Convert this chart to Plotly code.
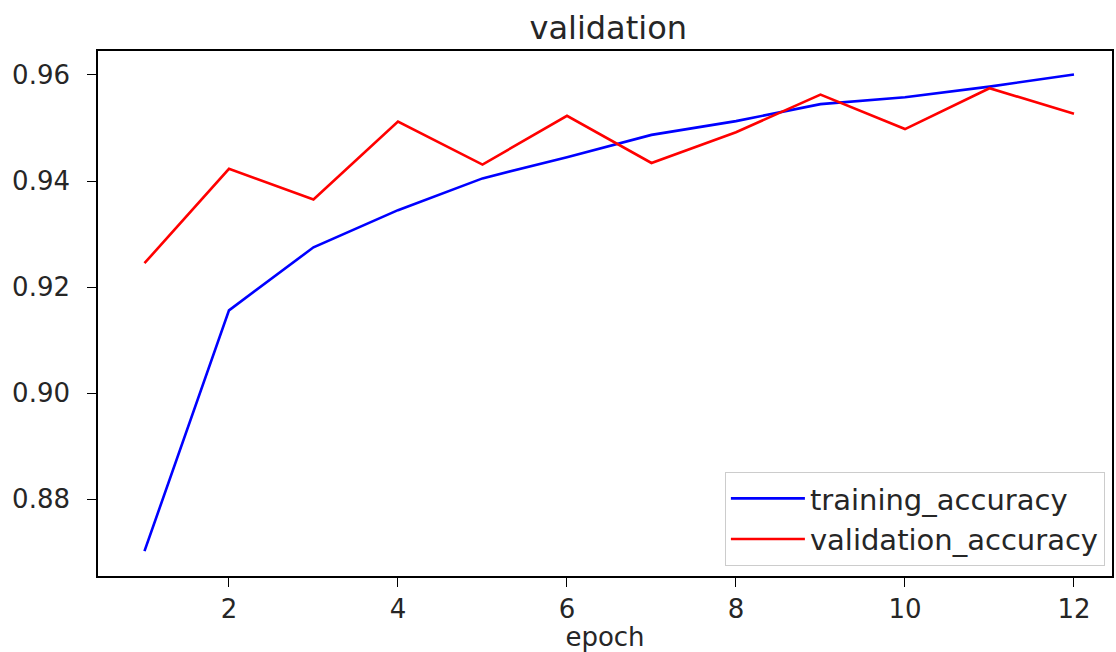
import plotly.graph_objects as go

epochs = [1, 2, 3, 4, 5, 6, 7, 8, 9, 10, 11, 12]
training_accuracy = [0.8702, 0.9156, 0.9275, 0.9345, 0.9405, 0.9445, 0.9487, 0.9513, 0.9545, 0.9558, 0.9578, 0.9601]
validation_accuracy = [0.9245, 0.9423, 0.9365, 0.9512, 0.9431, 0.9523, 0.9434, 0.9492, 0.9563, 0.9498, 0.9575, 0.9527]
x_ticks = [2, 4, 6, 8, 10, 12]
y_ticks = [0.88, 0.90, 0.92, 0.94, 0.96]

FONT = "DejaVu Sans"
TXT = "#262626"

fig = go.Figure()
fig.add_trace(go.Scatter(x=epochs, y=training_accuracy, mode="lines", name="training_accuracy",
                         line=dict(color="#0000ff", width=2.6)))
fig.add_trace(go.Scatter(x=epochs, y=validation_accuracy, mode="lines", name="validation_accuracy",
                         line=dict(color="#ff0000", width=2.6)))

axis_common = dict(showline=True, linecolor="black", linewidth=1.6, mirror=True,
                   showgrid=False, zeroline=False, ticks="outside", ticklen=9,
                   tickwidth=1.4, tickcolor="black",
                   tickfont=dict(family=FONT, size=26, color=TXT))

fig.update_layout(
    width=1116, height=652,
    margin=dict(l=98, r=2, t=51, b=75),
    paper_bgcolor="white", plot_bgcolor="white",
    title=dict(text="validation", x=0.545, xanchor="center", y=0.958, yanchor="middle",
               font=dict(family=FONT, size=32, color=TXT)),
    xaxis=dict(range=[0.45, 12.45], tickvals=x_ticks, ticktext=[str(v) for v in x_ticks],
               title=dict(text="epoch", standoff=8, font=dict(family=FONT, size=26, color=TXT)),
               **axis_common),
    yaxis=dict(range=[0.86551, 0.96452], tickvals=y_ticks, ticktext=[f"{v:.2f}" for v in y_ticks],
               ticklabelstandoff=12, **axis_common),
    legend=dict(x=0.993, y=0.019, xanchor="right", yanchor="bottom",
                bgcolor="rgba(255,255,255,0.8)", bordercolor="#cccccc", borderwidth=1,
                font=dict(family=FONT, size=29, color=TXT), itemwidth=74,
                tracegroupgap=0),
    showlegend=True,
)

fig.write_html("out.html")
